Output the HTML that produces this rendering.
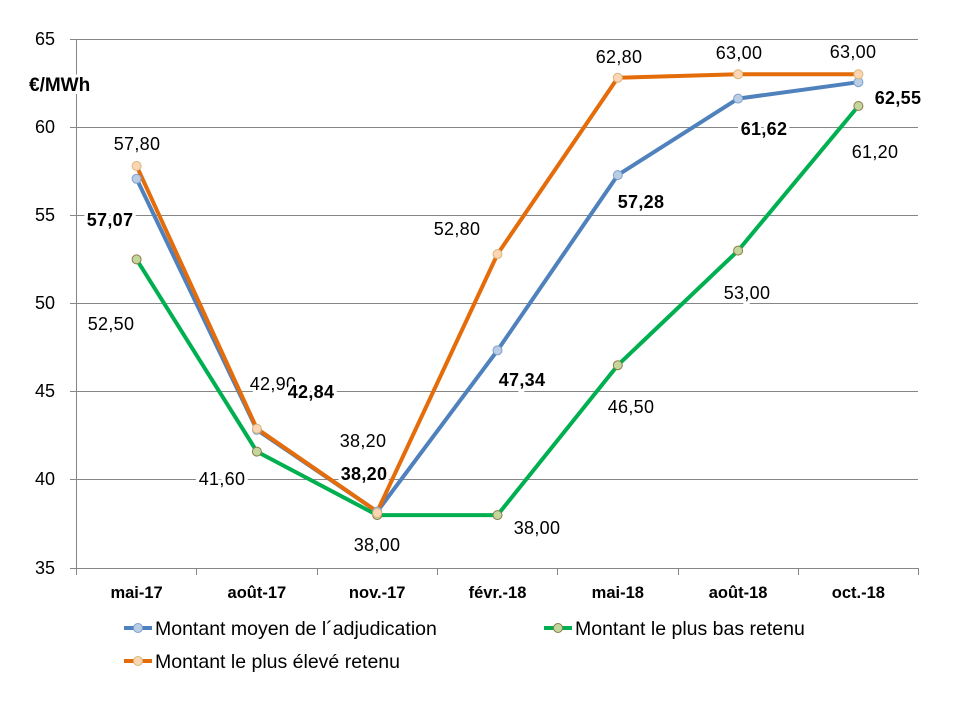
<!DOCTYPE html>
<html><head><meta charset="utf-8"><style>
html,body{margin:0;padding:0;background:#fff;}
svg{display:block;font-family:"Liberation Sans",Arial,sans-serif;}
.lb{font-size:18px;letter-spacing:0.3px;fill:#000;paint-order:stroke;stroke:#fff;stroke-width:7px;stroke-linejoin:round;}
.b{font-weight:bold;}
</style></head><body>
<svg width="960" height="720" viewBox="0 0 960 720">
<g stroke="#868686" stroke-width="1">
<line x1="70" y1="39.5" x2="918" y2="39.5"/>
<line x1="70" y1="127.5" x2="918" y2="127.5"/>
<line x1="70" y1="215.5" x2="918" y2="215.5"/>
<line x1="70" y1="303.5" x2="918" y2="303.5"/>
<line x1="70" y1="391.5" x2="918" y2="391.5"/>
<line x1="70" y1="479.5" x2="918" y2="479.5"/>
<line x1="70" y1="568.5" x2="918" y2="568.5"/>
<line x1="76.5" y1="39" x2="76.5" y2="568"/>
<line x1="76.5" y1="568" x2="76.5" y2="575"/>
<line x1="196.5" y1="568" x2="196.5" y2="575"/>
<line x1="317.5" y1="568" x2="317.5" y2="575"/>
<line x1="437.5" y1="568" x2="437.5" y2="575"/>
<line x1="557.5" y1="568" x2="557.5" y2="575"/>
<line x1="678.5" y1="568" x2="678.5" y2="575"/>
<line x1="798.5" y1="568" x2="798.5" y2="575"/>
<line x1="918.5" y1="568" x2="918.5" y2="575"/>
</g>
<g font-size="18" text-anchor="end" fill="#000">
<text x="55" y="45">65</text><text x="55" y="133">60</text><text x="55" y="221">55</text>
<text x="55" y="309">50</text><text x="55" y="397">45</text><text x="55" y="485">40</text><text x="55" y="574">35</text>
</g>
<text x="29" y="91" font-size="19" font-weight="bold" fill="#000" style="paint-order:stroke;stroke:#fff;stroke-width:6px">€/MWh</text>
<g font-size="16.5" font-weight="bold" text-anchor="middle" fill="#000">
<text x="136.6" y="598">mai-17</text><text x="256.9" y="598">août-17</text><text x="377.2" y="598">nov.-17</text>
<text x="497.5" y="598">févr.-18</text><text x="617.8" y="598">mai-18</text><text x="738.1" y="598">août-18</text><text x="858.4" y="598">oct.-18</text>
</g>
<g fill="none" stroke-width="4" stroke-linejoin="round">
<polyline stroke="#00b050" points="136.6,259.4 256.9,451.6 377.2,515.1 497.5,515.1 617.8,365.2 738.1,250.6 858.4,106"/>
<polyline stroke="#4f81bd" points="136.6,178.8 256.9,429.8 377.2,511.6 497.5,350.4 617.8,175.1 738.1,98.6 858.4,82.2"/>
<polyline stroke="#e46c0a" points="136.6,166 256.9,428.7 377.2,511.6 497.5,254.1 617.8,77.8 738.1,74.3 858.4,74.3"/>
</g>
<g stroke-width="1">
<g fill="#c3d69b" stroke="#8c7a4a">
<circle cx="136.6" cy="259.4" r="4.5"/><circle cx="256.9" cy="451.6" r="4.5"/><circle cx="377.2" cy="515.1" r="4.5"/><circle cx="497.5" cy="515.1" r="4.5"/><circle cx="617.8" cy="365.2" r="4.5"/><circle cx="738.1" cy="250.6" r="4.5"/><circle cx="858.4" cy="106" r="4.5"/>
</g>
<g fill="#b9cde5" stroke="#7f9fcf">
<circle cx="136.6" cy="178.8" r="4.5"/><circle cx="256.9" cy="429.8" r="4.5"/><circle cx="377.2" cy="511.6" r="4.5"/><circle cx="497.5" cy="350.4" r="4.5"/><circle cx="617.8" cy="175.1" r="4.5"/><circle cx="738.1" cy="98.6" r="4.5"/><circle cx="858.4" cy="82.2" r="4.5"/>
</g>
<g fill="#fcd5b5" stroke="#d6b77a">
<circle cx="136.6" cy="166" r="4.5"/><circle cx="256.9" cy="428.7" r="4.5"/><circle cx="377.2" cy="513" r="4.5"/><circle cx="497.5" cy="254.1" r="4.5"/><circle cx="617.8" cy="77.8" r="4.5"/><circle cx="738.1" cy="74.3" r="4.5"/><circle cx="858.4" cy="74.3" r="4.5"/>
</g>
</g>
<g class="lb" text-anchor="middle">
<text x="137" y="150">57,80</text><text x="273" y="390">42,90</text><text x="363" y="447">38,20</text>
<text x="457" y="235">52,80</text><text x="619" y="63">62,80</text><text x="739" y="59">63,00</text><text x="853" y="58">63,00</text>
<text class="b" x="110" y="226">57,07</text><text class="b" x="311" y="398">42,84</text><text class="b" x="364" y="480">38,20</text>
<text class="b" x="522" y="386">47,34</text><text class="b" x="641" y="208">57,28</text><text class="b" x="764" y="135">61,62</text><text class="b" x="898" y="104">62,55</text>
<text x="111" y="330">52,50</text><text x="222" y="485">41,60</text><text x="377" y="551">38,00</text>
<text x="537" y="534">38,00</text><text x="631" y="413">46,50</text><text x="747" y="299">53,00</text><text x="875" y="158">61,20</text>
</g>
<g font-size="19.5" fill="#000">
<line x1="124" y1="628" x2="152" y2="628" stroke="#4f81bd" stroke-width="4"/>
<circle cx="138" cy="628" r="4.5" fill="#b9cde5" stroke="#7f9fcf"/>
<text x="155" y="635">Montant moyen de l´adjudication</text>
<line x1="124" y1="661" x2="152" y2="661" stroke="#e46c0a" stroke-width="4"/>
<circle cx="138" cy="661" r="4.5" fill="#fcd5b5" stroke="#d6b77a"/>
<text x="155" y="668">Montant le plus élevé retenu</text>
<line x1="544" y1="628" x2="572" y2="628" stroke="#00b050" stroke-width="4"/>
<circle cx="558" cy="628" r="4.5" fill="#c3d69b" stroke="#8c7a4a"/>
<text x="575" y="635">Montant le plus bas retenu</text>
</g>
</svg>
</body></html>
